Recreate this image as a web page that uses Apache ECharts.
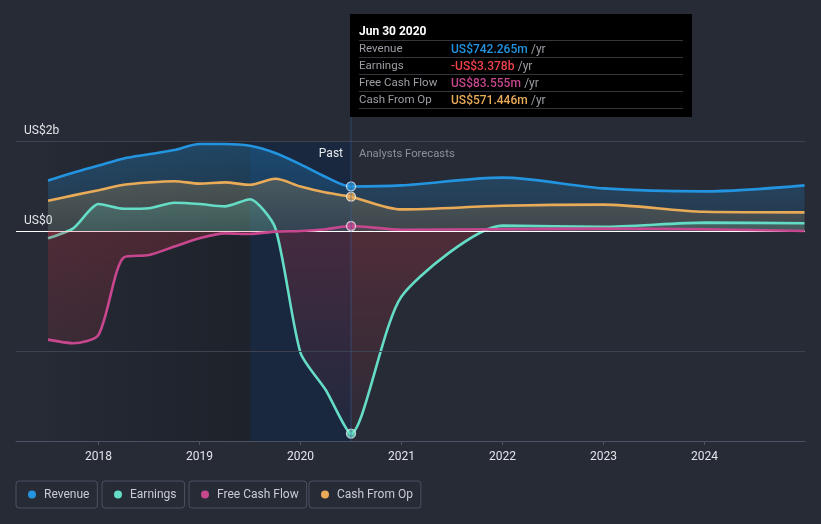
<!DOCTYPE html>
<html><head><meta charset="utf-8">
<script src="https://cdn.jsdelivr.net/npm/echarts@6/dist/echarts.min.js"></script>
<style>html,body{margin:0;padding:0;background:#262b36;} #c{width:821px;height:524px;}</style>
</head><body><div id="c"></div>
<script>
// ---- data (values in US$ billions, x in decimal years) ----
const pastX        = [2017.5, 2017.75, 2018.0, 2018.25, 2018.5, 2018.75, 2019.0, 2019.25, 2019.5, 2019.75, 2020.0, 2020.25, 2020.5];
const revenuePast  = [0.84, 0.97, 1.09, 1.21, 1.28, 1.35, 1.45, 1.45, 1.42, 1.30, 1.11, 0.90, 0.742265];
const earningsPast = [-0.12, 0.045, 0.45, 0.37, 0.38, 0.47, 0.45, 0.41, 0.53, 0.05, -2.03, -2.65, -3.378];
const fcfPast      = [-1.81, -1.87, -1.73, -0.44, -0.40, -0.26, -0.12, -0.04, -0.05, -0.01, 0.0, 0.03, 0.083555];
const cfoPast      = [0.505, 0.594, 0.68, 0.77, 0.81, 0.83, 0.79, 0.81, 0.77, 0.87, 0.74, 0.64, 0.571446];
const forecastX    = [2021.0, 2022.0, 2023.0, 2024.0, 2024.99];
const revenueFc    = [0.76, 0.89, 0.71, 0.66, 0.76];
const earningsFc   = [-1.09, 0.09, 0.07, 0.14, 0.13];
const fcfFc        = [0.02, 0.03, 0.04, 0.03, 0.0];
const cfoFc        = [0.36, 0.42, 0.44, 0.32, 0.31];
const xTickYears   = [2018, 2019, 2020, 2021, 2022, 2023, 2024];
const yGridValues  = [1.5, 0, -2, -3.5];
const yGridLabels  = ['US$2b', 'US$0', '', '-US$3b'];
const shadeStart = 2017.5, highlightStart = 2019.5, nowX = 2020.5;
const nowLabel = 'Jun 30 2020';
const seriesNames = ['Revenue', 'Earnings', 'Free Cash Flow', 'Cash From Op'];
// ---- layout / style ----
const COLORS = {Revenue:'#2394df', Earnings:'#65dcc6', 'Free Cash Flow':'#c7478f', 'Cash From Op':'#e9ab58'};
const X_MIN = 2017.183, X_MAX = 2024.995, Y_MIN = -3.5, Y_MAX = 1.5;
const GRID = {left:16, right:16, top:141, bottom:83};
const H = 524, gridH = H - GRID.top - GRID.bottom;
const zeroY = GRID.top + (Y_MAX - 0) / (Y_MAX - Y_MIN) * gridH;
const FONT = 'Roboto, "Noto Sans", sans-serif';

function pairs(xs, ys){ return xs.map((x,i)=>[x, ys[i]]); }
function build(past, fc){ return pairs(pastX, past).concat(pairs(forecastX, fc)); }
function grad(pTop, pZero, nZero, nBot){
  const f = (zeroY - GRID.top) / gridH;
  return new echarts.graphic.LinearGradient(0, GRID.top, 0, GRID.top + gridH, [
    {offset:0, color:pTop}, {offset:f, color:pZero}, {offset:f, color:nZero}, {offset:1, color:nBot}], true);
}
function lineSeries(name, data, area, z, smooth){
  return {type:'line', name, data, smooth:smooth, showSymbol:false, symbol:'none', z,
    lineStyle:{color:COLORS[name], width:2.6}, itemStyle:{color:COLORS[name]},
    areaStyle:{color:area, opacity:1}, emphasis:{disabled:true}, silent:true};
}
const last = pastX.length - 1;
const nowVals = {Revenue:revenuePast[last], Earnings:earningsPast[last], 'Free Cash Flow':fcfPast[last], 'Cash From Op':cfoPast[last]};
function fmt(v){
  const a = Math.abs(v), s = v < 0 ? '-' : '';
  return a >= 1 ? s + 'US$' + a.toFixed(3) + 'b' : s + 'US$' + (a*1000).toFixed(3) + 'm';
}

const chart = echarts.init(document.getElementById('c'), null, {renderer:'canvas'});
const legendBase = {orient:'horizontal', top:481, borderColor:'#4a5162', borderWidth:1, borderRadius:3,
  padding:[7,8,7,12], itemWidth:8, itemHeight:8, icon:'circle', selectedMode:false,
  textStyle:{color:'#c9ccd2', fontSize:12, fontFamily:FONT, padding:[0,0,0,3], lineHeight:13}};
const legendLefts = [16, 102, 189, 309];

chart.setOption({
  backgroundColor:'#262b36',
  animation:false,
  grid:GRID,
  legend: seriesNames.map((n,i)=>Object.assign({}, legendBase, {left:legendLefts[i], data:[n]})),
  xAxis:{type:'value', min:X_MIN, max:X_MAX,
    axisLine:{onZero:false, lineStyle:{color:'#4b5263', width:1}},
    axisTick:{show:true, customValues:xTickYears, length:4, lineStyle:{color:'#4b5263'}},
    axisLabel:{customValues:xTickYears, color:'#e3e5e8', fontSize:12, fontFamily:FONT, margin:10, formatter:v=>String(Math.round(v))},
    splitLine:{show:false}},
  yAxis:{type:'value', min:Y_MIN, max:Y_MAX, show:false},
  series:[
    {type:'line', name:'bg', data:[[shadeStart,0]], showSymbol:false, lineStyle:{opacity:0}, z:1, silent:true,
      markArea:{silent:true, data:[
        [{xAxis:shadeStart, itemStyle:{color:new echarts.graphic.LinearGradient(0,0,1,0,[{offset:0,color:'rgba(0,0,0,0.03)'},{offset:1,color:'rgba(0,0,0,0.22)'}])}}, {xAxis:highlightStart}],
        [{xAxis:highlightStart, itemStyle:{color:'rgba(8,35,75,0.42)'}}, {xAxis:nowX}]
      ]}},
    lineSeries('Revenue', build(revenuePast, revenueFc), grad('rgba(35,148,223,0.32)','rgba(35,148,223,0.12)','rgba(35,148,223,0)','rgba(35,148,223,0)'), 2, 0.3),
    lineSeries('Cash From Op', build(cfoPast, cfoFc), grad('rgba(232,170,80,0.3)','rgba(232,170,80,0.12)','rgba(210,50,65,0.2)','rgba(210,50,65,0.03)'), 3, 0.3),
    lineSeries('Earnings', build(earningsPast, earningsFc), grad('rgba(100,225,200,0.28)','rgba(100,225,200,0.14)','rgba(210,50,65,0.24)','rgba(210,50,65,0.03)'), 4, 0.22),
    lineSeries('Free Cash Flow', build(fcfPast, fcfFc), grad('rgba(199,71,143,0.2)','rgba(199,71,143,0.1)','rgba(210,50,65,0.24)','rgba(210,50,65,0.03)'), 5, 0.25),
    {type:'line', name:'grid', data:[], z:6, silent:true,
      markLine:{silent:true, symbol:['none','none'], animation:false,
        data: yGridValues.map((v,i)=>({yAxis:v,
          lineStyle:{type:'solid', color: v===0 ? '#ffffff' : '#3c4250', width: v===0 ? 1.2 : 1, opacity: v===Y_MIN ? 0 : 1},
          label:{show: yGridLabels[i] !== '', formatter: yGridLabels[i], position:'insideStartTop', distance:[8,4], color:'#e3e5e8', fontSize:12, fontFamily:FONT}}))}},
    {type:'scatter', name:'now', z:10, silent:true, symbolSize:9,
      data: seriesNames.map(n=>({value:[nowX, nowVals[n]], itemStyle:{color:COLORS[n], borderColor:'rgba(255,255,255,0.85)', borderWidth:1.3}}))}
  ]
});

const px = chart.convertToPixel({xAxisIndex:0}, nowX);
const tipTop = 14, tipW = 342, tipH = 103, tx = px + 8;
const g = [
  {type:'line', shape:{x1:px, y1:tipTop, x2:px, y2:GRID.top + gridH}, style:{stroke:'rgba(60,95,150,0.55)', lineWidth:1}, z:20, silent:true},
  {type:'rect', shape:{x:px-1, y:tipTop, width:tipW, height:tipH}, style:{fill:'#000000'}, z:30, silent:true},
  {type:'text', x:tx, y:tipTop+18, style:{text:nowLabel, fill:'#ffffff', font:'bold 12px ' + FONT, verticalAlign:'middle'}, z:31, silent:true},
  {type:'text', x:px-8, y:154, style:{text:'Past', fill:'#e8e9ec', font:'12px ' + FONT, align:'right', verticalAlign:'middle'}, z:31, silent:true},
  {type:'text', x:px+8, y:154, style:{text:'Analysts Forecasts', fill:'#8b9099', font:'11.3px ' + FONT, align:'left', verticalAlign:'middle'}, z:31, silent:true}
];
for (let i = 0; i < 5; i++) {
  const ly = tipTop + 26.5 + i*17;
  g.push({type:'line', shape:{x1:tx, y1:ly, x2:px+332, y2:ly}, style:{stroke:'#34363b', lineWidth:1}, z:31, silent:true});
}
seriesNames.forEach((n,i)=>{
  const ry = tipTop + 35.5 + i*17;
  const v = nowVals[n];
  const vc = (n === 'Earnings' && v < 0) ? '#f0424b' : COLORS[n];
  g.push({type:'text', x:tx, y:ry, style:{text:n, fill:'#9c9ea3', font:'11.5px ' + FONT, verticalAlign:'middle'}, z:31, silent:true});
  g.push({type:'text', x:px+100, y:ry, style:{text:'{v|' + fmt(v) + '} {u|/yr}', verticalAlign:'middle',
    rich:{v:{fill:vc, fontSize:12, fontWeight:500, fontFamily:FONT}, u:{fill:'#9c9ea3', fontSize:12, fontFamily:FONT}}}, z:31, silent:true});
});
chart.setOption({graphic:g});
</script></body></html>
